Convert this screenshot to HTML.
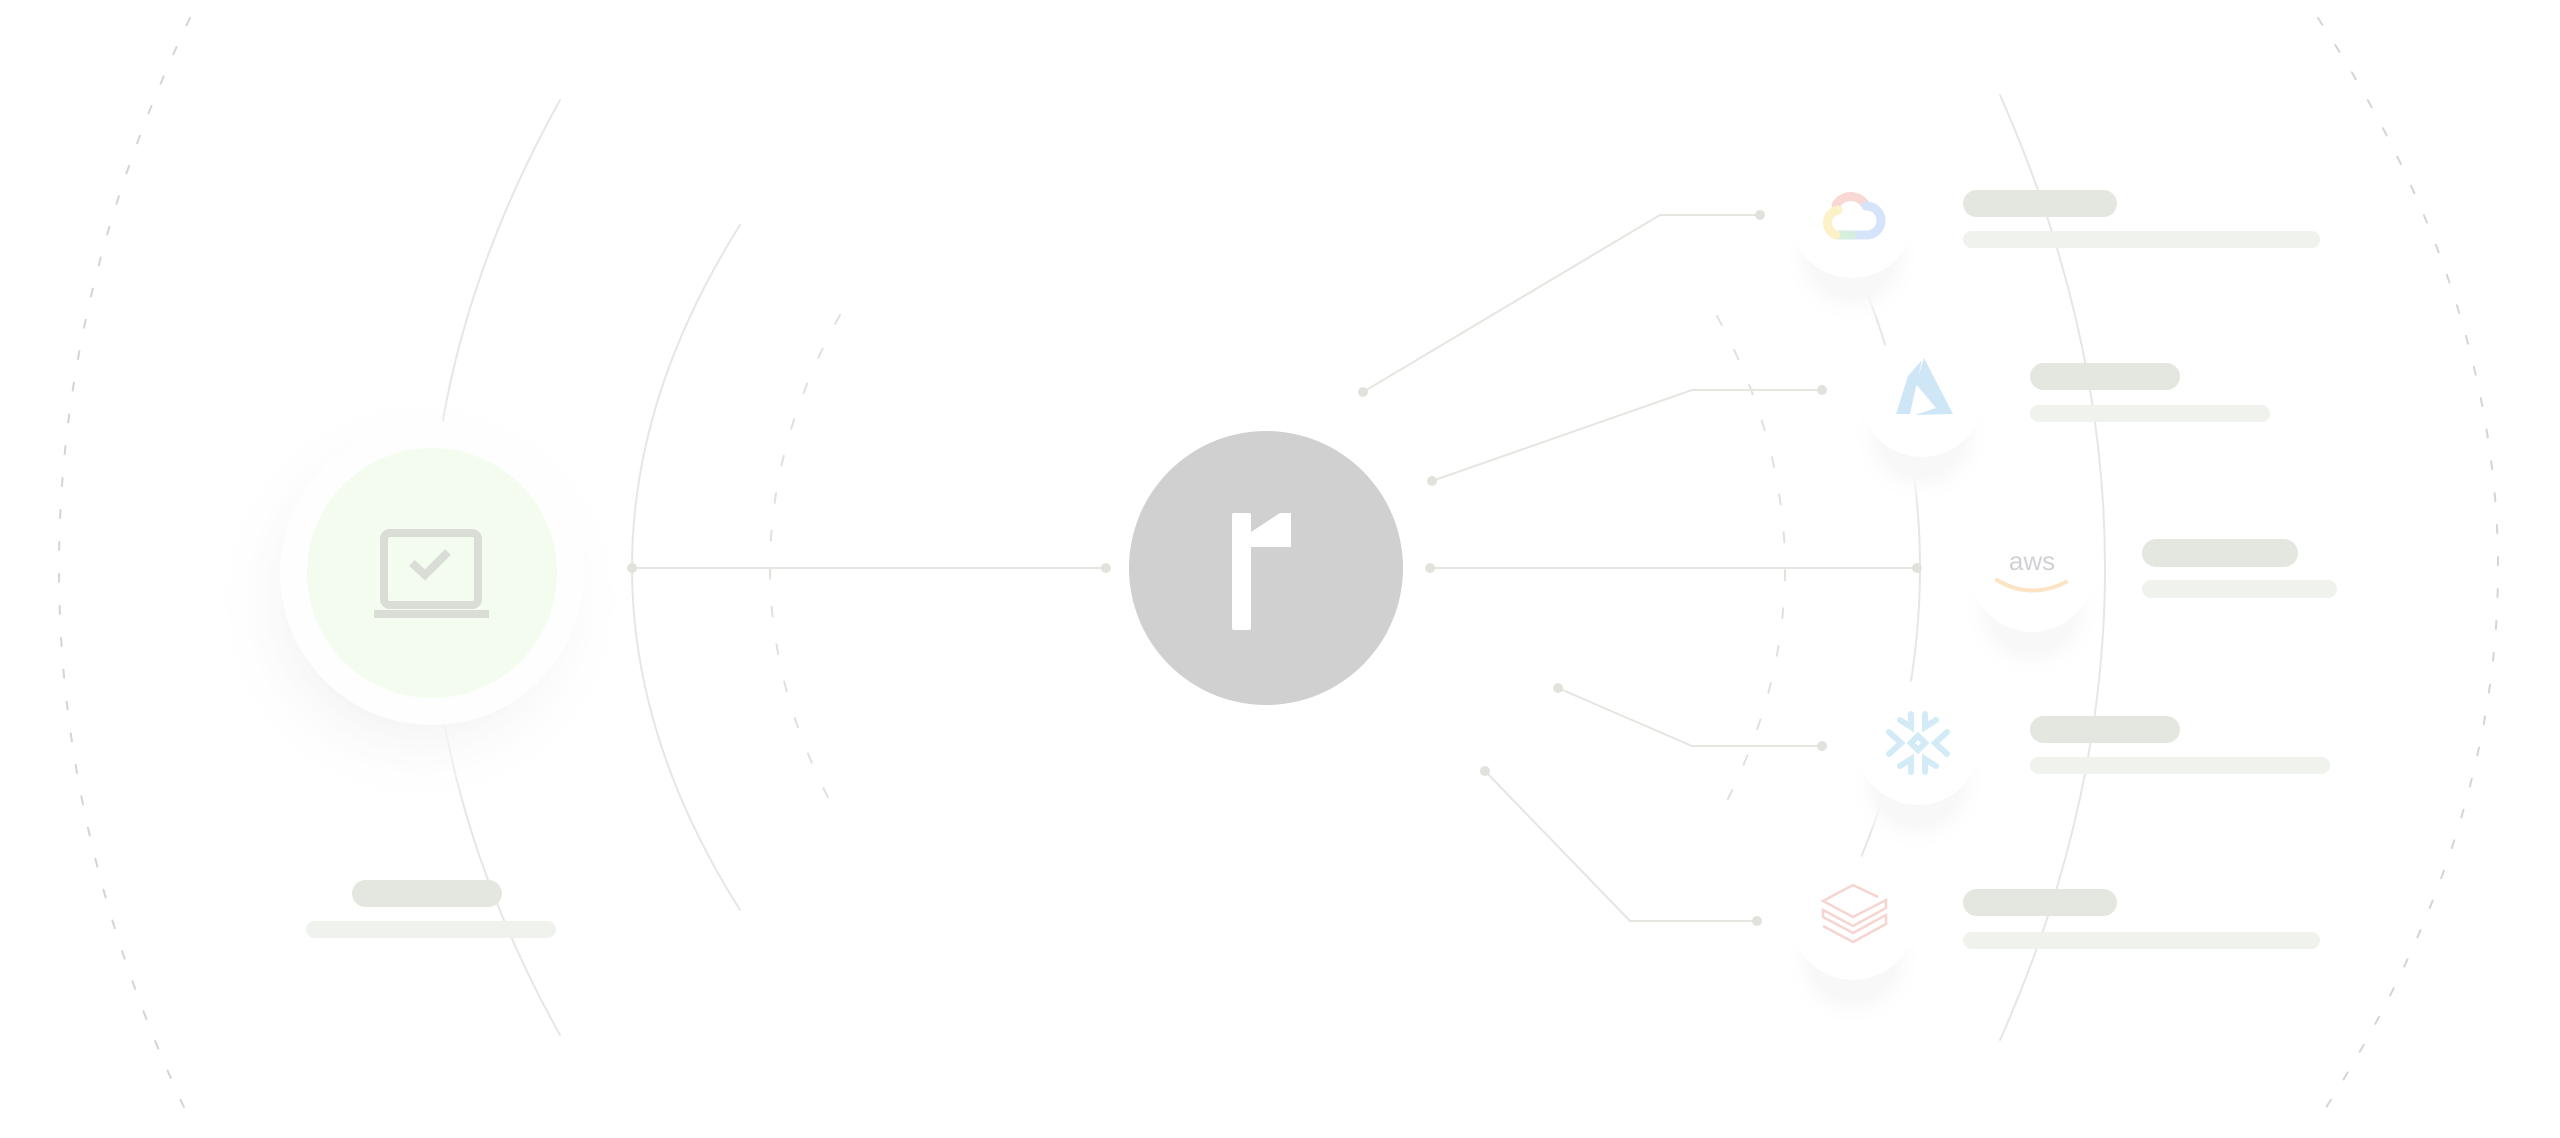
<!DOCTYPE html>
<html><head><meta charset="utf-8"><style>
html,body{margin:0;padding:0;background:#fff;width:2560px;height:1138px;overflow:hidden}
</style></head><body>
<svg width="2560" height="1138" viewBox="0 0 2560 1138" xmlns="http://www.w3.org/2000/svg">
<defs>
<radialGradient id="sh" cx="50%" cy="50%" r="50%">
<stop offset="0.55" stop-color="#f4f4f4" stop-opacity="1"/>
<stop offset="1" stop-color="#ffffff" stop-opacity="0"/>
</radialGradient>
<radialGradient id="sh2" cx="50%" cy="50%" r="50%">
<stop offset="0.6" stop-color="#f8f8f8"/>
<stop offset="1" stop-color="#ffffff" stop-opacity="0"/>
</radialGradient>
</defs>
<g fill="none" stroke-linecap="round">
<path d="M190,18 Q-72,568 190,1120" stroke="#d4d4d0" stroke-width="2" stroke-dasharray="8 24"/>
<path d="M2318,18 Q2678,568 2318,1120" stroke="#d4d4d0" stroke-width="2" stroke-dasharray="8 24"/>
<path d="M560,100 Q300,568 560,1035" stroke="#e6e6e2" stroke-width="2"/>
<path d="M740,225 Q524,568 740,910" stroke="#e6e6e2" stroke-width="2"/>
<path d="M2000,95 Q2210,568 2000,1040" stroke="#e6e6e2" stroke-width="2"/>
<path d="M1820,190 Q2020,568 1820,945" stroke="#e6e6e2" stroke-width="2"/>
<path d="M840,315 Q700,568 840,820" stroke="#e0e0dc" stroke-width="2" stroke-dasharray="10 28"/>
<path d="M1717,316 Q1853,568 1717,820" stroke="#e0e0dc" stroke-width="2" stroke-dasharray="10 28"/>
<g stroke="#e4e6e0" stroke-width="2">
<line x1="632" y1="568" x2="1106" y2="568"/>
<line x1="1430" y1="568" x2="1917" y2="568"/>
<polyline points="1363,392 1660,215 1760,215"/>
<polyline points="1432,481 1692,390 1822,390"/>
<polyline points="1558,688 1692,746 1822,746"/>
<polyline points="1485,771 1630,921 1757,921"/>
</g>
</g>
<g fill="#e0e3dc">
<circle cx="632" cy="568" r="5"/><circle cx="1106" cy="568" r="5"/>
<circle cx="1430" cy="568" r="5"/><circle cx="1917" cy="568" r="5"/>
<circle cx="1363" cy="392" r="5"/><circle cx="1760" cy="215" r="5"/>
<circle cx="1432" cy="481" r="5"/><circle cx="1822" cy="390" r="5"/>
<circle cx="1558" cy="688" r="5"/><circle cx="1822" cy="746" r="5"/>
<circle cx="1485" cy="771" r="5"/><circle cx="1757" cy="921" r="5"/>
</g>
<circle cx="420" cy="600" r="210" fill="url(#sh)"/>
<circle cx="432" cy="573" r="152" fill="#fefefe"/>
<circle cx="432" cy="573" r="125" fill="#f4fbef"/>
<g fill="none" stroke="#dadcd6" stroke-width="8">
<rect x="384" y="533" width="94" height="72" rx="6"/>
<polyline points="412,563 425,575 448,552"/>
</g>
<rect x="374" y="610" width="115" height="8" fill="#dadcd6"/>
<rect x="352" y="880" width="150" height="27" rx="13.5" fill="#e3e7df"/>
<rect x="306" y="921" width="250" height="17" rx="8.5" fill="#f0f2ed"/>
<circle cx="1266" cy="568" r="137" fill="#d0d0d0"/>
<rect x="1232" y="513" width="19" height="117" rx="2" fill="#fff"/>
<path d="M1251,532 L1280,513 L1291,513 L1291,547 L1251,547 Z" fill="#fff"/>
<g>
<circle cx="1852" cy="255" r="70" fill="url(#sh2)"/><circle cx="1852" cy="216" r="62" fill="#fff"/>
<circle cx="1922" cy="435" r="70" fill="url(#sh2)"/><circle cx="1922" cy="395" r="62" fill="#fff"/>
<circle cx="2032" cy="610" r="70" fill="url(#sh2)"/><circle cx="2032" cy="570" r="62" fill="#fff"/>
<circle cx="1918" cy="783" r="70" fill="url(#sh2)"/><circle cx="1918" cy="743" r="62" fill="#fff"/>
<circle cx="1853" cy="958" r="70" fill="url(#sh2)"/><circle cx="1853" cy="918" r="62" fill="#fff"/>
</g>
<g fill="none" stroke-width="9" stroke-linecap="round">
<path d="M1836,205 A17,17 0 0 1 1866,206" stroke="#f8d8d4"/>
<path d="M1866,206 A13,13 0 0 1 1867,235 L1852,235" stroke="#d6e4fb"/>
<path d="M1852,235 L1836,235" stroke="#d6eedd"/>
<path d="M1836,235 A13,13 0 0 1 1838,210" stroke="#fdf1c8"/>
</g>
<path d="M1908,376 L1922,360 L1910,414 L1896,414 Z" fill="#cfe6f7"/>
<path d="M1924,358 L1953,414 L1915,415 L1936,408 L1916,384 Z" fill="#cfe6f7"/>
<text x="2032" y="570" font-family="Liberation Sans, sans-serif" font-size="26" fill="#d0d1d4" text-anchor="middle">aws</text>
<path d="M1997,580 Q2030,600 2066,582" stroke="#fbe3c4" stroke-width="4" fill="none" stroke-linecap="round"/>
<g stroke="#d3ebf7" stroke-width="6" stroke-linecap="round" fill="none">
<polyline points="1911,714 1911,727 1900,720"/><polyline points="1925,714 1925,727 1936,720"/>
<polyline points="1911,772 1911,759 1900,766"/><polyline points="1925,772 1925,759 1936,766"/>
<polyline points="1889,732 1901,743 1889,754"/><polyline points="1947,732 1935,743 1947,754"/>
<rect x="1913" y="738" width="10" height="10" transform="rotate(45 1918 743)"/>
</g>
<g stroke="#f6d4d0" stroke-width="2.5" fill="none">
<path d="M1878,897 L1853,885 L1823,901 L1853,917 L1886,900 L1886,908 L1853,926 L1823,910 L1823,917 L1853,933 L1886,915 L1886,924 L1853,942 L1823,926"/>
</g>
<g fill="#e3e7df">
<rect x="1963" y="190" width="154" height="27" rx="13.5"/>
<rect x="2030" y="363" width="150" height="27" rx="13.5"/>
<rect x="2142" y="539" width="156" height="28" rx="14"/>
<rect x="2030" y="716" width="150" height="27" rx="13.5"/>
<rect x="1963" y="889" width="154" height="27" rx="13.5"/>
</g>
<g fill="#f0f2ed">
<rect x="1963" y="231" width="357" height="17" rx="8.5"/>
<rect x="2030" y="405" width="240" height="17" rx="8.5"/>
<rect x="2142" y="580" width="195" height="18" rx="9"/>
<rect x="2030" y="757" width="300" height="17" rx="8.5"/>
<rect x="1963" y="932" width="357" height="17" rx="8.5"/>
</g>
</svg>
</body></html>
